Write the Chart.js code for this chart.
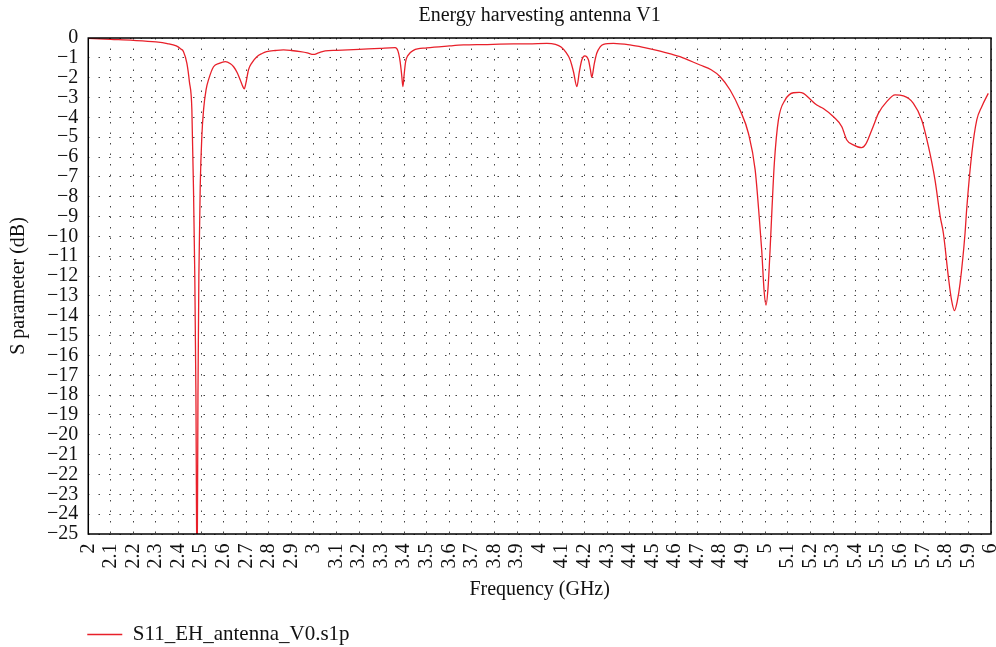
<!DOCTYPE html>
<html>
<head>
<meta charset="utf-8">
<script src="https://cdn.jsdelivr.net/npm/chart.js@4/dist/chart.umd.min.js"></script>
<style>
  body { margin: 0; background: #fff; }
  #wrap { width: 996px; height: 647px; }
</style>
</head>
<body>
<div id="wrap"><canvas id="chart"></canvas></div>
<script>
// frequence (GHz) et S11 (dB)
const freq = [2.0, 2.1, 2.2, 2.3, 2.35, 2.39, 2.41, 2.422, 2.437, 2.448, 2.459, 2.466, 2.472, 2.477, 2.482,
  2.486, 2.49, 2.496, 2.503, 2.511, 2.522, 2.533, 2.555, 2.58, 2.607, 2.63, 2.644, 2.66, 2.673, 2.685,
  2.691, 2.698, 2.71, 2.725, 2.747, 2.77, 2.79, 2.83, 2.865, 2.9, 2.94, 2.97, 2.998, 3.02, 3.05,
  3.1, 3.2, 3.293, 3.36, 3.372, 3.382, 3.389, 3.394, 3.4, 3.406, 3.415, 3.441, 3.5, 3.6, 3.663,
  3.75, 3.884, 3.95, 4.032, 4.07, 4.095, 4.115, 4.135, 4.15, 4.165, 4.176, 4.187, 4.2, 4.216, 4.225,
  4.231, 4.242, 4.253, 4.268, 4.283, 4.327, 4.4, 4.47, 4.534, 4.58, 4.622, 4.66, 4.711, 4.76, 4.8,
  4.844, 4.888, 4.925, 4.955, 4.974, 4.984, 4.995, 5.003, 5.012, 5.021, 5.03, 5.04, 5.058, 5.088, 5.124,
  5.15, 5.169, 5.2, 5.228, 5.257, 5.302, 5.339, 5.361, 5.39, 5.427, 5.445, 5.457, 5.48, 5.501, 5.538,
  5.575, 5.612, 5.656, 5.693, 5.723, 5.752, 5.775, 5.789, 5.811, 5.825, 5.838, 5.85, 5.863, 5.885, 5.892,
  5.915, 5.937, 5.959, 5.988];
const s11 = [-0.02, -0.07, -0.12, -0.2, -0.28, -0.4, -0.55, -0.69, -1.28, -2.2, -3.6, -7.5, -12, -18, -28,
  -18, -12, -7.5, -5, -3.6, -2.6, -2.1, -1.45, -1.28, -1.19, -1.3, -1.45, -1.75, -2.1, -2.45,
  -2.56, -2.3, -1.6, -1.25, -0.94, -0.78, -0.69, -0.63, -0.6, -0.63, -0.69, -0.75, -0.83, -0.75, -0.65,
  -0.62, -0.57, -0.52, -0.49, -0.65, -1.2, -1.9, -2.45, -1.8, -1.2, -0.9, -0.62, -0.5, -0.4, -0.35,
  -0.33, -0.3, -0.3, -0.27, -0.32, -0.45, -0.7, -1.1, -1.7, -2.45, -1.7, -1.1, -0.9, -1.1, -1.6,
  -1.98, -1.3, -0.77, -0.45, -0.32, -0.27, -0.35, -0.5, -0.66, -0.8, -0.94, -1.12, -1.36, -1.6, -1.95,
  -2.62, -3.63, -4.8, -6.65, -9.17, -10.7, -12.8, -13.46, -12.6, -10.7, -8.5, -6.3, -4.13, -3.12, -2.76,
  -2.74, -2.79, -3.1, -3.38, -3.55, -3.97, -4.47, -5.14, -5.39, -5.53, -5.35, -5.06, -4.4, -3.8, -3.21,
  -2.87, -2.92, -3.29, -4.13, -5.48, -7.16, -9.0, -9.84, -12.03, -13.2, -13.74, -13.3, -12.36, -9.84, -8.67,
  -5.81, -4.13, -3.46, -2.79];

// graduations des axes
const freqTicks = [2, 2.1, 2.2, 2.3, 2.4, 2.5, 2.6, 2.7, 2.8, 2.9, 3, 3.1, 3.2, 3.3, 3.4, 3.5, 3.6, 3.7, 3.8, 3.9,
  4, 4.1, 4.2, 4.3, 4.4, 4.5, 4.6, 4.7, 4.8, 4.9, 5, 5.1, 5.2, 5.3, 5.4, 5.5, 5.6, 5.7, 5.8, 5.9, 6];
const dbTicks = [0, -1, -2, -3, -4, -5, -6, -7, -8, -9, -10, -11, -12, -13, -14, -15, -16, -17, -18, -19,
  -20, -21, -22, -23, -24, -25];

const serif = "'Liberation Serif', 'DejaVu Serif', serif";

// cadre noir autour de la zone de tracé + recentrage du titre et de la légende
const framePlugin = {
  id: 'frame',
  afterUpdate(chart) {
    const a = chart.chartArea;
    if (chart.titleBlock) { chart.titleBlock.left = a.left; chart.titleBlock.right = a.right; }
    if (chart.legend) { chart.legend.left = a.left - 4; chart.legend.top += 8; }
  },
  afterDatasetsDraw(chart) {
    const a = chart.chartArea, c = chart.ctx;
    c.save();
    c.strokeStyle = '#000';
    c.lineWidth = 1.5;
    c.strokeRect(a.left, a.top, a.right - a.left, a.bottom - a.top);
    c.restore();
  }
};

const dots = { color: '#444', lineWidth: 1, drawTicks: false };
const dotBorder = { display: false, dash: [1.5, 9] };

new Chart(document.getElementById('chart'), {
  type: 'line',
  data: {
    datasets: [{
      label: 'S11_EH_antenna_V0.s1p',
      data: freq.map((f, i) => ({ x: f, y: s11[i] })),
      borderColor: '#e8202a',
      backgroundColor: '#e8202a',
      borderWidth: 1.3,
      pointRadius: 0,
      pointStyle: 'line',
      cubicInterpolationMode: 'monotone',
      fill: false
    }]
  },
  plugins: [framePlugin],
  options: {
    responsive: true,
    maintainAspectRatio: false,
    animation: false,
    layout: { padding: { top: 4, right: 5, left: 7, bottom: 0 } },
    plugins: {
      title: {
        display: true,
        text: 'Energy harvesting antenna V1',
        color: '#111',
        font: { family: serif, size: 20, weight: 'normal' },
        padding: { top: 0, bottom: 10 }
      },
      legend: {
        position: 'bottom',
        align: 'start',
        labels: {
          color: '#111',
          usePointStyle: true,
          pointStyleWidth: 35,
          padding: 3,
          font: { family: serif, size: 21 }
        }
      },
      tooltip: { enabled: false }
    },
    scales: {
      x: {
        type: 'linear',
        min: 2,
        max: 6,
        afterBuildTicks: s => { s.ticks = freqTicks.map(v => ({ value: v })); },
        afterFit: s => { s.paddingLeft = 0; s.paddingRight = 0; },
        grid: dots,
        border: dotBorder,
        ticks: {
          color: '#111',
          font: { family: serif, size: 20 },
          minRotation: 90,
          maxRotation: 90,
          padding: 9.5,
          autoSkip: false,
          callback: v => String(v)
        },
        title: {
          display: true,
          text: 'Frequency (GHz)',
          color: '#111',
          font: { family: serif, size: 20 },
          padding: { top: 0, bottom: 11 }
        }
      },
      y: {
        min: -25,
        max: 0,
        afterBuildTicks: s => { s.ticks = dbTicks.map(v => ({ value: v })); },
        grid: dots,
        border: dotBorder,
        ticks: {
          color: '#111',
          font: { family: serif, size: 20 },
          padding: 10,
          autoSkip: false,
          callback: v => String(v).replace('-', '\u2212')
        },
        title: {
          display: true,
          text: 'S parameter (dB)',
          color: '#111',
          font: { family: serif, size: 20 },
          padding: { top: 0, bottom: 6 }
        }
      }
    }
  }
});
</script>
</body>
</html>
